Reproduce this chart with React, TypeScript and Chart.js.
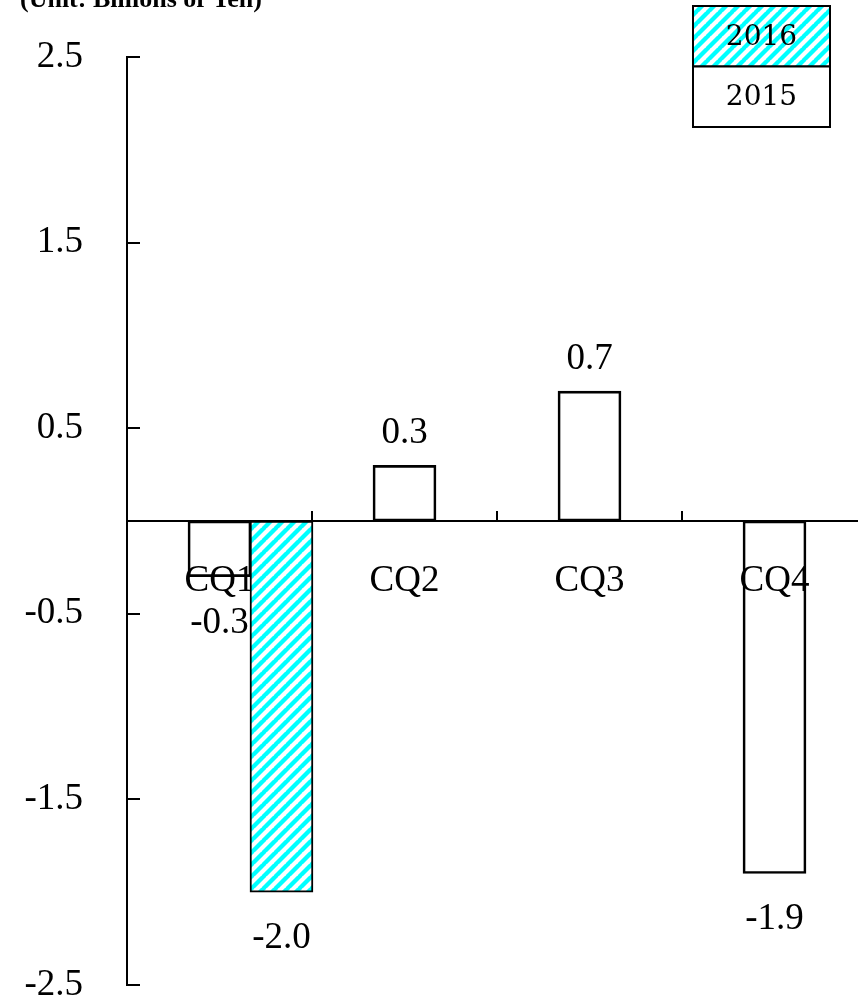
import React, { useEffect, useRef } from "react";
import { Chart, registerables } from "chart.js";

Chart.register(...registerables);

// ---- data ----
const quarters = ["CQ1", "CQ2", "CQ3", "CQ4"];
const values2015 = [-0.3, 0.3, 0.7, -1.9];
const quarterIndex2016 = [0]; // 2016 only reported for CQ1
const values2016 = [-2.0];
const yTickValues = [-2.5, -1.5, -0.5, 0.5, 1.5, 2.5];
const seriesNames = ["2015", "2016"];
const unitTitle = "(Unit: Billions of Yen)";

// ---- styles ----
const SERIF = '"Liberation Serif", "Times New Roman", serif';
const LEGEND_FONT = '"DejaVu Serif", serif';
const BAR_THICKNESS = 63;
const SIDE_SHIFT = 0.335; // 2016 bar sits one bar-width right of the 2015 bar

function makeHatch(ctx: CanvasRenderingContext2D): CanvasPattern | string {
  const p = 12;
  const c = document.createElement("canvas");
  c.width = p;
  c.height = p;
  const g = c.getContext("2d");
  if (!g) return "#00ffff";
  g.fillStyle = "#ffffff";
  g.fillRect(0, 0, p, p);
  g.strokeStyle = "#00ffff";
  g.lineWidth = 4.3;
  g.beginPath();
  for (const x0 of [-p, 0, p]) {
    g.moveTo(x0 - 1, p + 1);
    g.lineTo(x0 + p + 1, -1);
  }
  g.stroke();
  return ctx.createPattern(c, "repeat") || "#00ffff";
}

const decorations = {
  id: "decorations",
  afterDatasetsDraw(chart: any) {
    const ctx: CanvasRenderingContext2D = chart.ctx;
    ctx.save();
    ctx.font = `37px ${SERIF}`;
    ctx.fillStyle = "#000";
    ctx.textAlign = "center";
    ctx.textBaseline = "alphabetic";
    chart.data.datasets.forEach((ds: any, i: number) => {
      const meta = chart.getDatasetMeta(i);
      meta.data.forEach((el: any, j: number) => {
        const raw = ds.data[j];
        const v = typeof raw === "number" ? raw : raw.y;
        const y = v >= 0 ? el.y - 22 : el.y + 56;
        ctx.fillText(v.toFixed(1), el.x, y);
      });
    });
    ctx.restore();
  },
  afterDraw(chart: any) {
    const ctx: CanvasRenderingContext2D = chart.ctx;
    ctx.save();
    // unit title
    ctx.font = `bold 26px ${SERIF}`;
    ctx.fillStyle = "#000";
    ctx.textAlign = "left";
    ctx.textBaseline = "alphabetic";
    ctx.fillText(unitTitle, 20, 7);

    // stacked legend box (last series on top)
    const left = 693;
    const top = 6;
    const w = 137;
    const h = 60.5;
    const dsets = [...chart.data.datasets].reverse();
    dsets.forEach((ds: any, i: number) => {
      const y = top + i * h;
      ctx.fillStyle = "#ffffff";
      ctx.fillRect(left, y, w, h);
      ctx.fillStyle = ds.backgroundColor;
      ctx.fillRect(left, y, w, h);
      ctx.lineWidth = 2;
      ctx.strokeStyle = "#000";
      ctx.strokeRect(left, y, w, h);
      ctx.fillStyle = "#000";
      ctx.font = `28px ${LEGEND_FONT}`;
      ctx.textAlign = "center";
      ctx.textBaseline = "middle";
      ctx.fillText(ds.label, left + w / 2, y + h / 2 + 1);
    });
    ctx.restore();
  },
};

export default function App() {
  const ref = useRef<HTMLCanvasElement | null>(null);

  useEffect(() => {
    const canvas = ref.current;
    if (!canvas) return;
    const ctx = canvas.getContext("2d");
    if (!ctx) return;
    const hatch = makeHatch(ctx);

    const chart = new Chart(ctx, {
      type: "bar",
      data: {
        labels: quarters,
        datasets: [
          {
            label: seriesNames[0],
            data: values2015,
            xAxisID: "x",
            grouped: false,
            backgroundColor: "rgba(255,255,255,0)",
            borderColor: "#000000",
            borderWidth: 2,
            borderSkipped: false,
            barThickness: BAR_THICKNESS,
          },
          {
            label: seriesNames[1],
            data: quarterIndex2016.map((q, k) => ({ x: q, y: values2016[k] })),
            xAxisID: "x2",
            grouped: false,
            backgroundColor: hatch as any,
            borderColor: "#000000",
            borderWidth: 2,
            borderSkipped: false,
            barThickness: BAR_THICKNESS,
          },
        ] as any,
      },
      options: {
        animation: false,
        responsive: false,
        layout: { padding: { left: 0, top: 57, right: 13, bottom: 0 } },
        plugins: {
          legend: { display: false },
          tooltip: { enabled: false },
          title: { display: false },
        },
        scales: {
          x: {
            type: "category",
            position: { y: 0 } as any,
            offset: true,
            grid: {
              offset: true,
              drawOnChartArea: false,
              tickLength: -11,
              color: "#000",
              lineWidth: 2,
            },
            border: { display: true, color: "#000", width: 2, z: 1 } as any,
            ticks: {
              font: { family: SERIF, size: 37, lineHeight: 1.2 },
              color: "#000",
              padding: 49,
              maxRotation: 0,
              autoSkip: false,
            } as any,
          },
          x2: {
            type: "linear",
            display: false,
            offset: false,
            min: -0.5 - SIDE_SHIFT,
            max: quarters.length - 0.5 - SIDE_SHIFT,
          },
          y: {
            type: "linear",
            position: "left",
            min: yTickValues[0],
            max: yTickValues[yTickValues.length - 1],
            afterBuildTicks: (s: any) => {
              s.ticks = yTickValues.map((value) => ({ value }));
            },
            afterFit: (s: any) => {
              s.width = 127;
            },
            grid: {
              drawOnChartArea: false,
              tickLength: -13,
              color: "#000",
              lineWidth: 2,
            },
            border: { display: true, color: "#000", width: 2 },
            ticks: {
              font: { family: SERIF, size: 37, lineHeight: 0.01 },
              color: "#000",
              padding: 57,
              callback: (v: any) => Number(v).toFixed(1),
            },
          },
        } as any,
      },
      plugins: [decorations],
    });

    return () => chart.destroy();
  }, []);

  return (
    <div
      style={{
        position: "absolute",
        left: 0,
        top: 0,
        width: 858,
        height: 1008,
        overflow: "hidden",
        background: "#fff",
      }}
    >
      <canvas ref={ref} width={880} height={1042} style={{ display: "block" }} />
    </div>
  );
}
